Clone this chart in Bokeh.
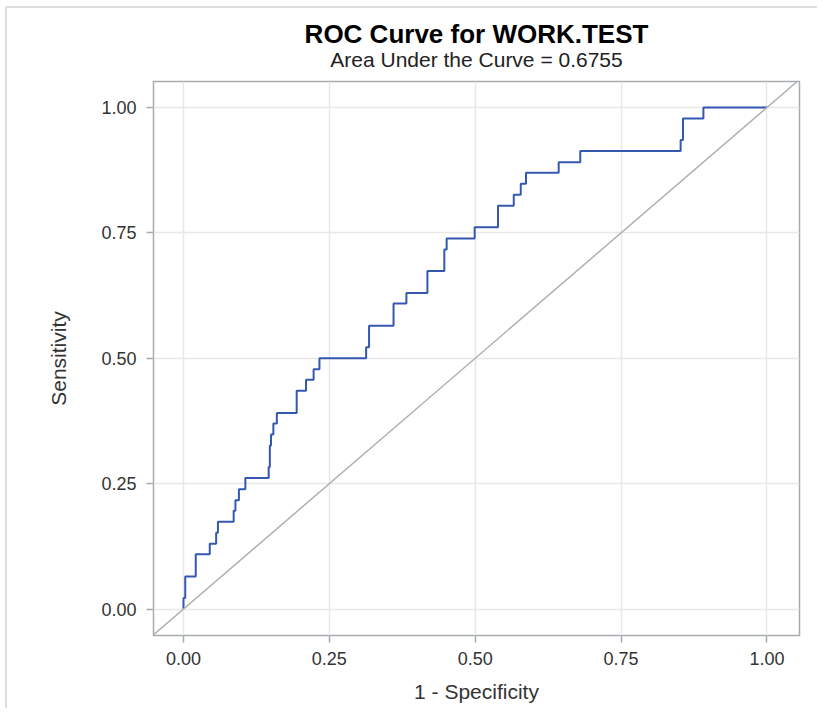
from bokeh.plotting import figure
from bokeh.models import Slope, Title, FixedTicker
from bokeh.embed import file_html
from bokeh.resources import INLINE

# ROC points (1 - specificity, sensitivity)
fpr = [0.000, 0.000, 0.003, 0.021, 0.045, 0.056, 0.059, 0.086, 0.089, 0.095,
       0.106, 0.146, 0.148, 0.150, 0.154, 0.160, 0.194, 0.210, 0.223, 0.233,
       0.313, 0.318, 0.360, 0.382, 0.418, 0.447, 0.451, 0.499, 0.539, 0.566,
       0.578, 0.587, 0.643, 0.680, 0.852, 0.856, 0.891, 1.000]
tpr = [0.000, 0.022, 0.065, 0.109, 0.130, 0.152, 0.174, 0.196, 0.217, 0.239,
       0.261, 0.283, 0.326, 0.348, 0.370, 0.391, 0.435, 0.457, 0.478, 0.500,
       0.522, 0.565, 0.609, 0.630, 0.674, 0.717, 0.739, 0.761, 0.804, 0.826,
       0.848, 0.870, 0.891, 0.913, 0.935, 0.978, 1.000, 1.000]

tick_values = [0.0, 0.25, 0.5, 0.75, 1.0]
tick_labels = ["0.00", "0.25", "0.50", "0.75", "1.00"]

title_text = "ROC Curve for WORK.TEST"
subtitle_text = "Area Under the Curve = 0.6755"
x_label = "1 - Specificity"
y_label = "Sensitivity"

FONT = "Liberation Sans"
FRAME = "#a6abb0"
TXT = "#333333"

p = figure(width=812, height=702, output_backend="svg", toolbar_location=None,
           x_range=(-0.0514, 1.0557), y_range=(-0.0528, 1.0518),
           min_border_left=146, min_border_right=20, min_border_bottom=75,
           min_border_top=73, title=None)

p.styles = {"border-left": "2px solid #dedede", "border-top": "2px solid #dedede",
            "margin-left": "5px", "margin-top": "6px"}

p.add_layout(Title(text=subtitle_text, align="center", text_font=FONT,
                   text_font_size="21px", text_font_style="normal",
                   text_color="#222222", standoff=22), "above")
p.add_layout(Title(text=title_text, align="center", text_font=FONT,
                   text_font_size="26px", text_font_style="bold",
                   text_color="#000000", standoff=-28), "above")

p.outline_line_color = FRAME
p.outline_line_width = 1.5
p.background_fill_color = "white"
p.border_fill_color = "white"

for ax in (p.xaxis[0], p.yaxis[0]):
    ax.ticker = FixedTicker(ticks=tick_values)
    ax.major_label_overrides = dict(zip(tick_values, tick_labels))
    ax.axis_line_color = None
    ax.major_tick_line_color = FRAME
    ax.major_tick_line_width = 1.5
    ax.major_tick_out = 7
    ax.major_tick_in = 0
    ax.minor_tick_line_color = None
    ax.major_label_text_font = FONT
    ax.major_label_text_font_size = "18px"
    ax.major_label_text_color = TXT
    ax.axis_label_text_font = FONT
    ax.axis_label_text_font_size = "21px"
    ax.axis_label_text_font_style = "normal"
    ax.axis_label_text_color = TXT

p.xaxis.axis_label = x_label
p.yaxis.axis_label = y_label
p.xaxis.major_label_standoff = 9
p.yaxis.major_label_standoff = 10
p.xaxis.axis_label_standoff = 12
p.yaxis.axis_label_standoff = 28

p.grid.grid_line_color = "#e8e8e8"
p.grid.grid_line_width = 1.5
p.xgrid.ticker = FixedTicker(ticks=tick_values)
p.ygrid.ticker = FixedTicker(ticks=tick_values)

p.add_layout(Slope(gradient=1, y_intercept=0, line_color="#b0b0b0", line_width=1.5))

p.step(fpr, tpr, mode="after", line_color="#3458b0", line_width=2)

open("out.html", "w").write(file_html(p, INLINE))
